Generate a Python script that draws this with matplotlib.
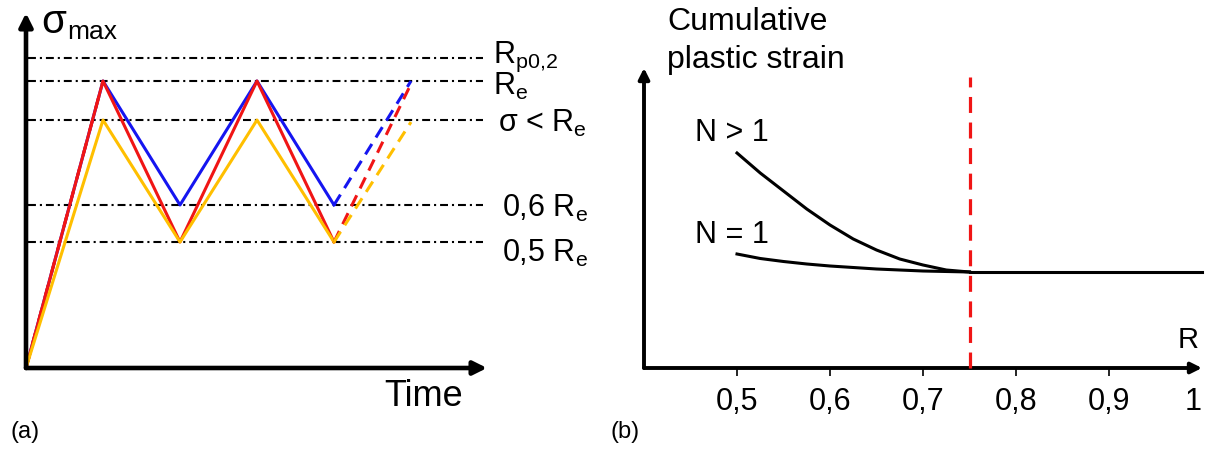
import numpy as np
import matplotlib
matplotlib.use('Agg')
import matplotlib.pyplot as plt

matplotlib.rcParams.update({'font.family': 'Liberation Sans',
                            'mathtext.fontset': 'custom',
                            'mathtext.rm': 'Liberation Sans'})

# ---- panel (a): sigma_max vs time ----
t_cycle = [0, 1, 2, 3, 4]
blue_y = [0, 1.0, 0.568, 1.0, 0.568]
red_y = [0, 1.0, 0.439, 1.0, 0.439]
yellow_y = [0, 0.864, 0.439, 0.864, 0.439]
t_next = [4, 5]
blue_next = [0.568, 1.0]
red_next = [0.439, 0.99]
yellow_next = [0.439, 0.857]

levels = [1.08, 1.0, 0.864, 0.568, 0.439]
level_labels = [r'R$_\mathregular{p0{,}2}$', r'R$_\mathregular{e}$', r'σ < R$_\mathregular{e}$',
                r'0,6 R$_\mathregular{e}$', r'0,5 R$_\mathregular{e}$']

# ---- panel (b): cumulative plastic strain vs R ----
R_many = [0.5, 0.525, 0.55, 0.575, 0.6, 0.625, 0.65, 0.675, 0.7, 0.725, 0.75]
strain_many = [2.15, 1.95, 1.77, 1.59, 1.43, 1.29, 1.18, 1.09, 1.03, 0.98, 0.96]
R_one = [0.5, 0.525, 0.55, 0.575, 0.6, 0.625, 0.65, 0.675, 0.7, 0.725, 0.75]
strain_one = [1.14, 1.095, 1.065, 1.04, 1.02, 1.005, 0.99, 0.98, 0.97, 0.965, 0.96]
R_flat = [0.75, 1.0]
strain_flat = [0.96, 0.96]
R_limit = 0.75
R_ticks = [0.5, 0.6, 0.7, 0.8, 0.9, 1.0]
R_tick_labels = ['0,5', '0,6', '0,7', '0,8', '0,9', '1']

BLUE = '#1515f0'
RED = '#f01515'
GOLD = '#ffbf00'

fig = plt.figure(figsize=(12.06, 4.5), dpi=100)

W, H = 1206., 450.
ax1 = fig.add_axes([26 / W, (H - 368) / H, 461 / W, 355 / H])
ax1.set_xlim(0, 461 / 77.)
ax1.set_ylim(0, 355 / 287.)

for lev in levels:
    ax1.plot([0.03, 5.93], [lev, lev], color='k', lw=1.5,
             linestyle=(0, (3.8, 1.9, 1, 1.9)), clip_on=False)

ax1.plot(t_cycle, blue_y, color=BLUE, lw=2.2, clip_on=False)
ax1.plot(t_cycle, red_y, color=RED, lw=2.2, clip_on=False)
ax1.plot(t_cycle[:2], blue_y[:2], color=RED, lw=2.2, linestyle=(0, (4, 4)), clip_on=False)
ax1.plot(t_cycle, yellow_y, color=GOLD, lw=2.2, clip_on=False)
ax1.plot(t_next, blue_next, color=BLUE, lw=2.2, linestyle=(0, (4, 2.5)), clip_on=False)
ax1.plot(t_next, red_next, color=RED, lw=2.2, linestyle=(0, (4, 2.5)), clip_on=False)
ax1.plot(t_next, yellow_next, color=GOLD, lw=2.2, linestyle=(0, (4, 2.5)), clip_on=False)

label_x = [6.06, 6.06, 6.13, 6.18, 6.18]
label_dy = [-0.017, -0.049, -0.042, -0.042, -0.07]
for lev, txt, lx, dy in zip(levels, level_labels, label_x, label_dy):
    ax1.text(lx, lev + dy, txt, fontsize=22, ha='left', va='baseline', clip_on=False)

ax1.text(0.2, 1.205, 'σ', fontsize=29, ha='left', va='center')
ax1.text(0.53, 1.146, 'max', fontsize=19, ha='left', va='baseline')
ax1.text(5.16, -0.1, 'Time', fontsize=26, ha='center', va='center')
ax1.text(-0.013, -0.223, '(a)', fontsize=17, ha='center', va='center')

# ---- panel (b) ----
ax2 = fig.add_axes([644 / W, (H - 368) / H, 558 / W, 300 / H])
ax2.set_xlim(0.4, 1.0)
ax2.set_ylim(0, 3.0)

ax2.plot(R_many, strain_many, color='k', lw=2.2, clip_on=False)
ax2.plot(R_one, strain_one, color='k', lw=2.2, clip_on=False)
ax2.plot(R_flat, strain_flat, color='k', lw=2.2, clip_on=False)
ax2.plot([R_limit, R_limit], [0, 2.91], color=RED, lw=2.3,
         linestyle=(0, (5, 3)), clip_on=False, zorder=5)

ax2.set_xticks(R_ticks)
ax2.set_xticklabels(R_tick_labels, fontsize=22)
ax2.set_yticks([])
ax2.tick_params(axis='x', direction='out', length=6, width=1.2, pad=8)
last = ax2.xaxis.get_major_ticks()[-1]
last.tick1line.set_visible(False)
last.label1.set_horizontalalignment('right')

ax2.text(0.4247, 3.46, 'Cumulative', fontsize=23, ha='left', va='center')
ax2.text(0.4247, 3.08, 'plastic strain', fontsize=23, ha='left', va='center')
ax2.text(0.455, 2.35, 'N > 1', fontsize=22, ha='left', va='center')
ax2.text(0.455, 1.33, 'N = 1', fontsize=22, ha='left', va='center')
ax2.text(0.974, 0.28, 'R', fontsize=21, ha='left', va='center')
ax2.text(0.3796, -0.64, '(b)', fontsize=17, ha='center', va='center', clip_on=False)

# hand drawn style axes with arrows
for ax, lw, ms in [(ax1, 3.3, 20), (ax2, 2.8, 16)]:
    for s in ax.spines.values():
        s.set_visible(False)
    ax.set_facecolor('none')
    ax.annotate('', xy=(1, 0), xytext=(0, 0), xycoords='axes fraction',
                arrowprops=dict(arrowstyle='-|>', lw=lw, color='k', mutation_scale=ms,
                                shrinkA=0, shrinkB=0), annotation_clip=False)
    ax.annotate('', xy=(0, 1), xytext=(0, 0), xycoords='axes fraction',
                arrowprops=dict(arrowstyle='-|>', lw=lw, color='k', mutation_scale=ms,
                                shrinkA=0, shrinkB=0), annotation_clip=False)
ax1.set_xticks([])
ax1.set_yticks([])

plt.savefig('out.png', dpi=100)
